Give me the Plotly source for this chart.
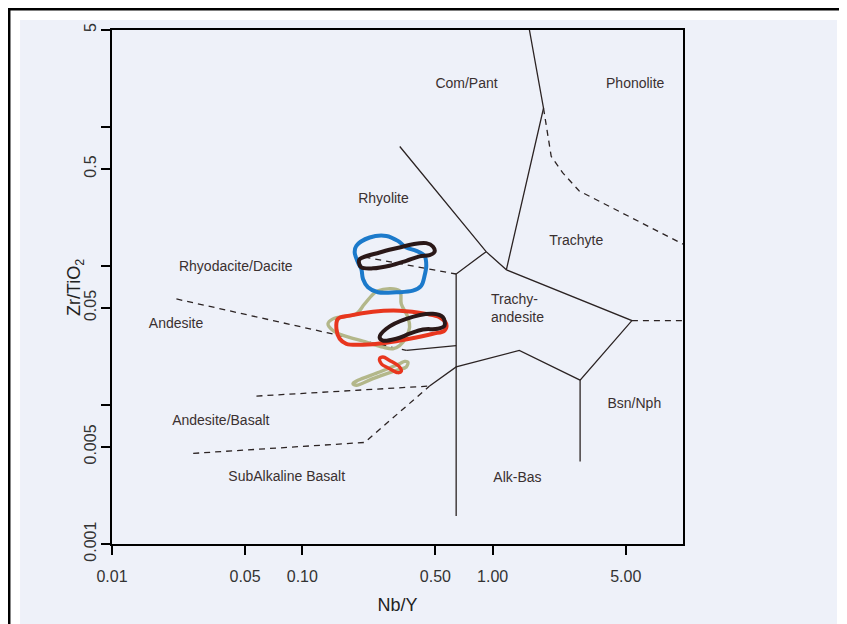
import numpy as np
import plotly.graph_objects as go

# ---------------- axis ticks ----------------
x_tickvals = [0.01, 0.05, 0.1, 0.5, 1, 5]
x_ticktext = ["0.01", "0.05", "0.10", "0.50", "1.00", "5.00"]
y_tickvals = [0.001, 0.005, 0.05, 0.5, 5]
y_ticktext = ["0.001", "0.005", "0.05", "0.5", "5"]
y_minor_tickvals = [0.01, 0.1, 1]

# ---------------- field boundaries (Nb/Y, Zr/TiO2) ----------------
# solid
comp_phon_x = [1.56, 1.85, 1.18]
comp_phon_y = [5.0, 1.37, 0.094]
rhy_comp_x = [0.325, 0.924, 1.18]
rhy_comp_y = [0.725, 0.127, 0.094]
alk_left_x = [0.924, 0.643, 0.643]
alk_left_y = [0.127, 0.0877, 0.00159]
trachyand_x = [1.18, 5.39, 2.88, 1.38, 0.643, 0.466]
trachyand_y = [0.094, 0.0405, 0.0151, 0.0247, 0.0188, 0.0137]
bsn_alk_x = [2.88, 2.88]
bsn_alk_y = [0.0151, 0.00392]
and_trach_x = [0.352, 0.643]
and_trach_y = [0.0247, 0.0268]
# dashed
trach_phon_x = [1.85, 2.03, 2.33, 2.85, 10.0]
trach_phon_y = [1.37, 0.617, 0.470, 0.347, 0.144]
rhy_rd_x = [0.212, 0.643]
rhy_rd_y = [0.116, 0.0877]
and_rd_x = [0.0218, 0.352]
and_rd_y = [0.058, 0.0247]
and_ab_x = [0.0574, 0.466]
and_ab_y = [0.0116, 0.0137]
ab_sub_x = [0.0267, 0.2125, 0.466]
ab_sub_y = [0.00449, 0.00538, 0.0137]
ta_bsn_x = [5.39, 10.0]
ta_bsn_y = [0.0405, 0.0405]

# ---------------- hand-drawn sample fields ----------------
blue_x = [0.1922, 0.2258, 0.2763, 0.3178, 0.3517, 0.3968, 0.4387, 0.4478, 0.4387,
          0.4215, 0.3808, 0.3117, 0.2495, 0.2212, 0.2083, 0.2042, 0.1960, 0.1884]
blue_y = [0.1398, 0.1606, 0.1649, 0.1518, 0.1362, 0.1287, 0.1185, 0.1005, 0.0852,
          0.0722, 0.0665, 0.0648, 0.0648, 0.0704, 0.0807, 0.0952, 0.1063, 0.1253]

black1_x = [0.2000, 0.2547, 0.3243, 0.3808, 0.4478, 0.4851, 0.4952, 0.4662, 0.4130,
            0.3517, 0.2874, 0.2349, 0.2042, 0.1983]
black1_y = [0.1122, 0.1253, 0.1362, 0.1438, 0.1462, 0.1384, 0.1266, 0.1199, 0.1174,
            0.1091, 0.1005, 0.0963, 0.0979, 0.1063]

olive1_x = [0.2495, 0.2125, 0.1922, 0.1449, 0.1364, 0.1449, 0.1635, 0.2170, 0.2651,
            0.2991, 0.3243, 0.3517, 0.3661, 0.3585, 0.3311, 0.3243]
olive1_y = [0.0665, 0.0534, 0.0453, 0.0417, 0.0384, 0.0344, 0.0317, 0.0284, 0.0261,
            0.0254, 0.0268, 0.0308, 0.0364, 0.0429, 0.0534, 0.0665]

olive2_x = [0.3585, 0.3517, 0.3117, 0.2349, 0.1922, 0.1845, 0.1960, 0.2547, 0.3243, 0.3445]
olive2_y = [0.0204, 0.0188, 0.01777, 0.01549, 0.01387, 0.01426, 0.01506, 0.0173, 0.01984, 0.0206]

red1_x = [0.1539, 0.1773, 0.2349, 0.3243, 0.4478, 0.5258, 0.5702, 0.5587, 0.4851,
          0.3661, 0.2763, 0.2083, 0.1703, 0.1571, 0.1510]
red1_y = [0.0417, 0.0440, 0.0470, 0.0478, 0.0453, 0.0429, 0.0384, 0.0344, 0.0326,
          0.0300, 0.0281, 0.0272, 0.0276, 0.0300, 0.0354]

black2_x = [0.2547, 0.2763, 0.3517, 0.4851, 0.5473, 0.5587, 0.5150, 0.4297, 0.3661,
            0.3117, 0.2651]
black2_y = [0.0308, 0.0354, 0.0417, 0.0453, 0.0429, 0.0373, 0.0354, 0.0350, 0.0326,
            0.0300, 0.0291]

red2_x = [0.2547, 0.2651, 0.2874, 0.3243, 0.3311, 0.3178, 0.2874, 0.2600]
red2_y = [0.02154, 0.02216, 0.02095, 0.0188, 0.01747, 0.0171, 0.01827, 0.01984]

# ---------------- field labels ----------------
label_text = ["Com/Pant", "Phonolite", "Rhyolite", "Trachyte", "Rhyodacite/Dacite",
              "Andesite", "Andesite/Basalt", "Bsn/Nph", "Alk-Bas", "SubAlkaline Basalt"]
label_x = [0.729, 5.61, 0.267, 2.75, 0.0447, 0.0217, 0.0373, 5.55, 1.35, 0.0828]
label_y = [2.02, 2.02, 0.302, 0.151, 0.0983, 0.0378, 0.00762, 0.0101, 0.00297, 0.00302]
ta_label_x = 1.358
ta_label_y = 0.050

LINE = "#2b2323"
FONT = "Liberation Sans, Arial, sans-serif"

fig = go.Figure()


def add_line(xs, ys, dash=None):
    fig.add_trace(go.Scatter(x=xs, y=ys, mode="lines", hoverinfo="skip",
                             line=dict(color=LINE, width=1.3, dash=dash)))


for xs, ys in [(comp_phon_x, comp_phon_y), (rhy_comp_x, rhy_comp_y),
               (alk_left_x, alk_left_y), (trachyand_x, trachyand_y),
               (bsn_alk_x, bsn_alk_y), (and_trach_x, and_trach_y)]:
    add_line(xs, ys)

for xs, ys in [(trach_phon_x, trach_phon_y), (rhy_rd_x, rhy_rd_y),
               (and_rd_x, and_rd_y), (and_ab_x, and_ab_y),
               (ab_sub_x, ab_sub_y), (ta_bsn_x, ta_bsn_y)]:
    add_line(xs, ys, dash="6px,5px")


def add_blob(xs, ys, color, width=4):
    fig.add_trace(go.Scatter(x=xs + xs[:1], y=ys + ys[:1], mode="lines",
                             hoverinfo="skip",
                             line=dict(color=color, width=width, shape="spline",
                                       smoothing=1.0)))


OLIVE = "#b3b78a"
BLUE = "#1c7acb"
RED = "#e8361e"
BLACK = "#2a1818"

add_blob(olive1_x, olive1_y, OLIVE, 3.4)
add_blob(olive2_x, olive2_y, OLIVE, 3.4)
add_blob(blue_x, blue_y, BLUE)
add_blob(red1_x, red1_y, RED)
add_blob(red2_x, red2_y, RED, 3.4)
add_blob(black1_x, black1_y, BLACK)
add_blob(black2_x, black2_y, BLACK)

fig.add_trace(go.Scatter(x=label_x, y=label_y, text=label_text, mode="text",
                         textposition="middle center", hoverinfo="skip",
                         textfont=dict(family=FONT, size=14, color="#3a3030")))

fig.add_annotation(x=np.log10(ta_label_x), y=np.log10(ta_label_y), xref="x", yref="y",
                   text="Trachy-<br>andesite", showarrow=False, align="left",
                   font=dict(family=FONT, size=14, color="#3a3030"))

# y-axis title placed as rotated text left of the tick labels
fig.add_annotation(x=-0.0648, y=0.5, xref="paper", yref="paper",
                   text="Zr/TiO<sub>2</sub>", textangle=-90, showarrow=False,
                   xanchor="center", yanchor="middle",
                   font=dict(family=FONT, size=18, color="#222222"))

PAPER = "#eef1f9"
# page has an 8px body margin; plot area spans page px 112..683 (x) and 30..546 (y)
fig.update_layout(
    width=839, height=616,
    margin=dict(l=104, r=164, t=22, b=78),
    paper_bgcolor="white",
    plot_bgcolor="rgba(0,0,0,0)",
    showlegend=False,
    shapes=[
        dict(type="rect", xref="paper", yref="paper", layer="below",
             x0=-0.161, x1=1.2697, y0=-0.16, y1=1.0194,
             fillcolor=PAPER, line=dict(width=0)),
        dict(type="line", xref="paper", yref="paper",
             x0=-0.19, x1=1.30, y0=1.0405, y1=1.0405,
             line=dict(color="black", width=2.5)),
        dict(type="line", xref="paper", yref="paper",
             x0=-0.1800, x1=-0.1800, y0=-0.16, y1=1.0405,
             line=dict(color="black", width=2.5)),
    ],
    xaxis=dict(
        type="log", range=[-2, 1],
        tickvals=x_tickvals, ticktext=x_ticktext,
        ticks="outside", ticklen=9, tickwidth=1.5, tickcolor="black",
        showline=True, linewidth=2, linecolor="black", mirror=True,
        showgrid=False, zeroline=False, ticklabelstandoff=8,
        tickfont=dict(family=FONT, size=16, color="#333333"),
        title=dict(text="Nb/Y", font=dict(family=FONT, size=18, color="#222222"),
                   standoff=14),
    ),
    yaxis=dict(
        type="log", range=[-3, np.log10(5)],
        tickvals=y_tickvals, ticktext=y_ticktext, tickangle=-90,
        ticks="outside", ticklen=9, tickwidth=1.5, tickcolor="black",
        minor=dict(tickvals=y_minor_tickvals, ticks="outside", ticklen=9,
                   tickwidth=1.5, tickcolor="black", showgrid=False),
        showline=True, linewidth=2, linecolor="black", mirror=True,
        showgrid=False, zeroline=False, ticklabelstandoff=-1,
        tickfont=dict(family=FONT, size=16, color="#333333"),
    ),
)

fig.write_html("out.html")
